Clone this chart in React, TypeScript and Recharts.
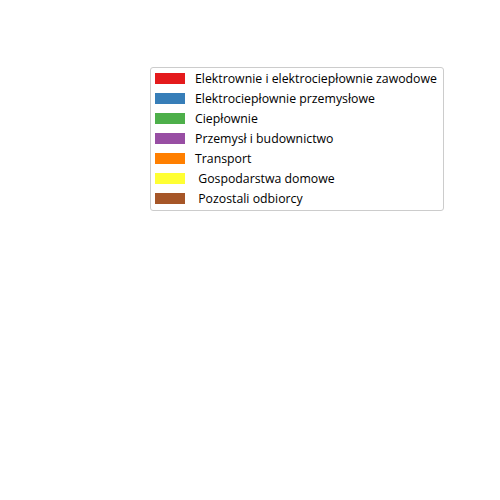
import { PieChart, Pie, Cell, Legend } from 'recharts'

const categories = [
  'Elektrownie i elektrociepłownie zawodowe',
  'Elektrociepłownie przemysłowe',
  'Ciepłownie',
  'Przemysł i budownictwo',
  'Transport',
  ' Gospodarstwa domowe',
  ' Pozostali odbiorcy',
]
// nothing is drawn in the plot area, so every share reads as zero
const values = [0, 0, 0, 0, 0, 0, 0]
const colors = ['#e41a1c', '#377eb8', '#4daf4a', '#984ea3', '#ff7f00', '#ffff33', '#a65628']

const data = categories.map((name, i) => ({ name, value: values[i] }))

function LegendBox() {
  return (
    <div
      style={{
        border: '1px solid #cccccc',
        borderRadius: 3,
        background: '#fff',
        padding: '0 5px 2px 4px',
        width: 283,
        fontFamily: '"Open Sans", sans-serif',
        fontSize: 12.3,
        color: '#000',
      }}
    >
      {categories.map((name, i) => (
        <div key={name} style={{ display: 'flex', alignItems: 'center', height: 20 }}>
          <span style={{ width: 30, height: 11, background: colors[i], marginRight: 10, flexShrink: 0 }} />
          <span style={{ whiteSpace: 'pre' }}>{name}</span>
        </div>
      ))}
    </div>
  )
}

export default function App() {
  return (
    <PieChart width={500} height={500} style={{ margin: '-8px 0 0 -8px' }}>
      <Pie
        data={data}
        dataKey="value"
        nameKey="name"
        cx="50%"
        cy="60%"
        outerRadius={150}
        isAnimationActive={false}
        stroke="none"
      >
        {data.map((entry, i) => (
          <Cell key={entry.name} fill={colors[i]} />
        ))}
      </Pie>
      <Legend
        content={() => <LegendBox />}
        layout="vertical"
        wrapperStyle={{ position: 'absolute', left: 150, top: 67, width: 'auto' }}
      />
    </PieChart>
  )
}
